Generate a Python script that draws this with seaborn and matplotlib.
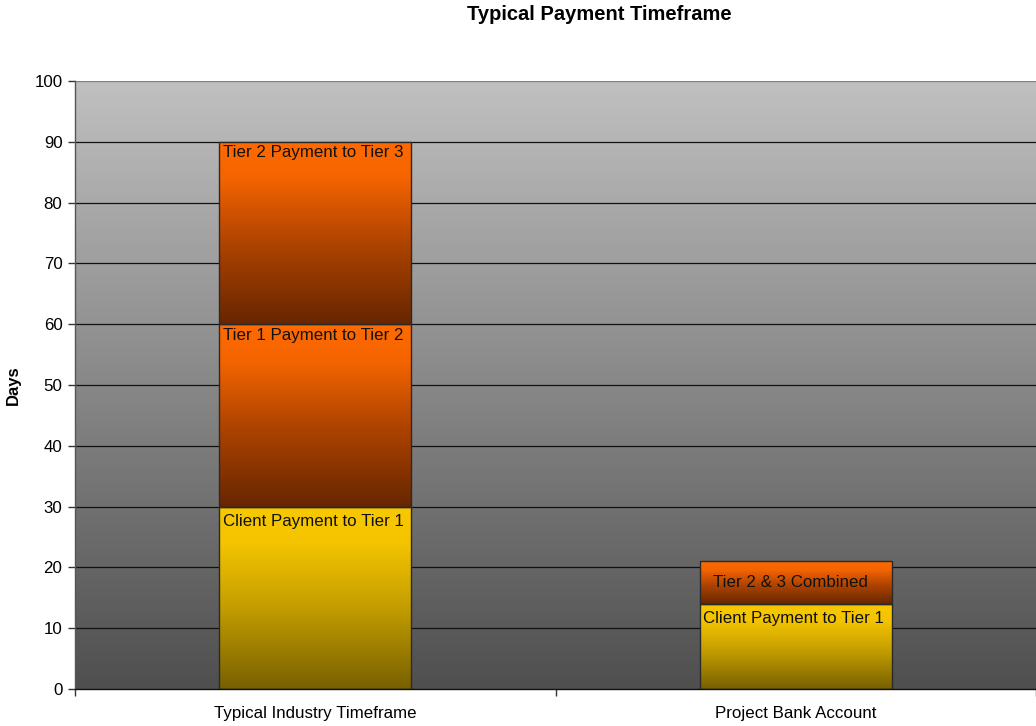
import numpy as np
import pandas as pd
import matplotlib
matplotlib.use("Agg")
import matplotlib.pyplot as plt
import seaborn as sns
from matplotlib.colors import LinearSegmentedColormap

# ---- data ----
categories = ["Typical Industry Timeframe", "Project Bank Account"]
segment_names = [
    ["Client Payment to Tier 1", "Tier 1 Payment to Tier 2", "Tier 2 Payment to Tier 3"],
    ["Client Payment to Tier 1", "Tier 2 & 3 Combined"],
]
segment_values = [[30, 30, 30], [14, 7]]
segment_kinds = [["client", "tier", "tier"], ["client", "tier"]]
yticks = list(range(0, 101, 10))

title = "Typical Payment Timeframe"
ylabel = "Days"

# ---- style ----
sns.set_theme(style="white")
plt.rcParams["font.family"] = ["Liberation Sans", "DejaVu Sans"]
plt.rcParams["text.color"] = "black"
plt.rcParams["xtick.color"] = "black"
plt.rcParams["ytick.color"] = "black"
plt.rcParams["axes.labelcolor"] = "black"

fig = plt.figure(figsize=(10.36, 7.26), dpi=100)
ax = fig.add_axes([75 / 1036, 1 - 689 / 726, 1 - 75 / 1036, (689 - 81) / 726])

rows = []
for ci, cat in enumerate(categories):
    bottom = 0
    for li, (name, val, kind) in enumerate(zip(segment_names[ci], segment_values[ci], segment_kinds[ci])):
        rows.append(dict(category=cat, level=li, name=name, value=val, bottom=bottom, kind=kind))
        bottom += val
df = pd.DataFrame(rows)

cmaps = {
    "client": LinearSegmentedColormap.from_list(
        "c", [(0.0, "#786000"), (0.45, "#c49e00"), (0.8, "#f4c400"), (1.0, "#f8c800")]),
    "tier": LinearSegmentedColormap.from_list(
        "t", [(0.0, "#672600"), (0.45, "#b04400"), (0.8, "#f56400"), (1.0, "#ff6a00")]),
}

seg_info = []
for li in sorted(df["level"].unique()):
    sub = df[df["level"] == li]
    n_before = len(ax.patches)
    sns.barplot(data=sub, x="category", y="value", order=categories, bottom=sub["bottom"].values,
                width=0.4, color="#888888", edgecolor="#2a2a2a", linewidth=1.0,
                errorbar=None, ax=ax, zorder=3)
    new = ax.patches[n_before:]
    for p, (_, r) in zip(new, sub.iterrows()):
        seg_info.append((p, r))

# gradient fills clipped to bars
for p, r in seg_info:
    x, y = p.get_x(), p.get_y()
    w, h = p.get_width(), p.get_height()
    grad = np.linspace(0, 1, 256).reshape(-1, 1)
    im = ax.imshow(grad, cmap=cmaps[r["kind"]], origin="lower", aspect="auto",
                   extent=[x, x + w, y, y + h], zorder=3.5, interpolation="bicubic")
    im.set_clip_path(p)
    p.set_facecolor("none")
    p.set_zorder(4)
    cx = x + w / 2
    if r["name"] == "Tier 2 & 3 Combined":
        ax.annotate(r["name"], (cx, y + h / 2), xytext=(-4, 0), textcoords="offset points",
                    ha="center", va="center", fontsize=12.2, color="#111111", zorder=5)
    else:
        off = -5 if r["kind"] == "client" else -2.5
        ax.annotate(r["name"], (cx, y + h), xytext=(-1.5, off), textcoords="offset points",
                    ha="center", va="top", fontsize=12.2, color="#111111", zorder=5)

# background gradient
bg = LinearSegmentedColormap.from_list("bg", ["#4f4f4f", "#c0c0c0"])
ax.imshow(np.linspace(0, 1, 256).reshape(-1, 1), cmap=bg, origin="lower", aspect="auto",
          extent=[-0.5, 1.5, 0, 100], zorder=0)

ax.set_xlim(-0.5, 1.5)
ax.set_ylim(0, 100)
ax.set_yticks(yticks)
for yv in yticks[1:]:
    ax.axhline(yv, color="#111111" if yv < 100 else "#808080", linewidth=0.9, zorder=1)

ax.set_xticks(range(len(categories)))
ax.set_xticklabels(categories, fontsize=12.2)
ax.set_xticks([-0.5, 0.5, 1.5], minor=True)
ax.tick_params(axis="x", which="major", length=0, pad=12)
ax.tick_params(axis="x", which="minor", length=5, width=1, color="#333333", direction="out", bottom=True)
ax.tick_params(axis="y", which="major", length=5, width=1, color="#333333", direction="out",
               left=True, labelsize=12.2, pad=4)

for s in ["top", "right"]:
    ax.spines[s].set_visible(False)
ax.spines["left"].set_color("#555555")
ax.spines["bottom"].set_color("#111111")
ax.spines["left"].set_linewidth(1)
ax.spines["bottom"].set_linewidth(1)
ax.spines["left"].set_zorder(6)
ax.spines["bottom"].set_zorder(6)

ax.set_xlabel("")
ax.set_ylabel(ylabel, fontsize=12, fontweight="bold", labelpad=10)
fig.text(599 / 1036, 1 - 14 / 726, title, ha="center", va="center",
         fontsize=14.5, fontweight="bold")

fig.savefig("out.png", dpi=100, facecolor="white")
